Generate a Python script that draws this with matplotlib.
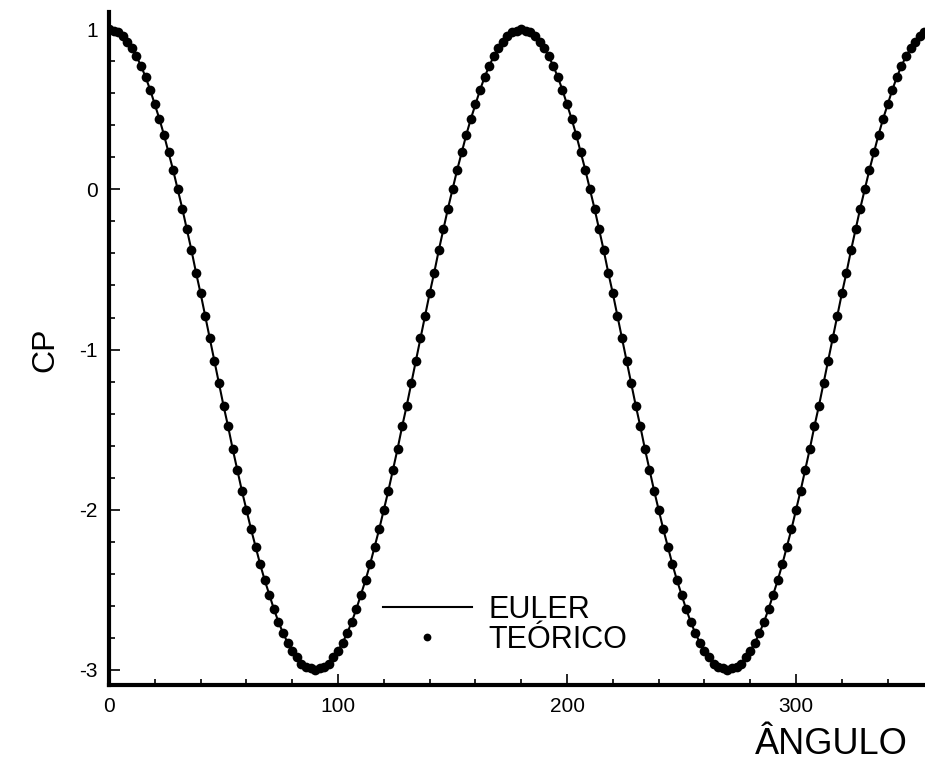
import matplotlib
matplotlib.use('Agg')
import matplotlib.pyplot as plt
from matplotlib.ticker import MultipleLocator

plt.rcParams['font.family'] = ['Liberation Sans', 'DejaVu Sans']
plt.rcParams['axes.unicode_minus'] = False

# angulo (graus) e Cp teorico
angulo = [
    0, 2, 4, 6, 8, 10, 12, 14, 16, 18, 20, 22, 24, 26, 28, 30, 32, 34, 36, 38,
    40, 42, 44, 46, 48, 50, 52, 54, 56, 58, 60, 62, 64, 66, 68, 70, 72, 74, 76, 78,
    80, 82, 84, 86, 88, 90, 92, 94, 96, 98, 100, 102, 104, 106, 108, 110, 112, 114, 116, 118,
    120, 122, 124, 126, 128, 130, 132, 134, 136, 138, 140, 142, 144, 146, 148, 150, 152, 154, 156, 158,
    160, 162, 164, 166, 168, 170, 172, 174, 176, 178, 180, 182, 184, 186, 188, 190, 192, 194, 196, 198,
    200, 202, 204, 206, 208, 210, 212, 214, 216, 218, 220, 222, 224, 226, 228, 230, 232, 234, 236, 238,
    240, 242, 244, 246, 248, 250, 252, 254, 256, 258, 260, 262, 264, 266, 268, 270, 272, 274, 276, 278,
    280, 282, 284, 286, 288, 290, 292, 294, 296, 298, 300, 302, 304, 306, 308, 310, 312, 314, 316, 318,
    320, 322, 324, 326, 328, 330, 332, 334, 336, 338, 340, 342, 344, 346, 348, 350, 352, 354, 356, 358,
    360,
]

cp = [
    1.00, 0.99, 0.98, 0.96, 0.92, 0.88, 0.83, 0.77, 0.70, 0.62, 0.53, 0.44, 0.34, 0.23, 0.12, 0.00,
    -0.12, -0.25, -0.38, -0.52, -0.65, -0.79, -0.93, -1.07, -1.21, -1.35, -1.48, -1.62, -1.75, -1.88,
    -2.00, -2.12, -2.23, -2.34, -2.44, -2.53, -2.62, -2.70, -2.77, -2.83, -2.88, -2.92, -2.96, -2.98,
    -2.99, -3.00,
    -2.99, -2.98, -2.96, -2.92, -2.88, -2.83, -2.77, -2.70, -2.62, -2.53, -2.44, -2.34, -2.23, -2.12,
    -2.00, -1.88, -1.75, -1.62, -1.48, -1.35, -1.21, -1.07, -0.93, -0.79, -0.65, -0.52, -0.38, -0.25,
    -0.12, 0.00, 0.12, 0.23, 0.34, 0.44, 0.53, 0.62, 0.70, 0.77, 0.83, 0.88, 0.92, 0.96, 0.98, 0.99,
    1.00,
    0.99, 0.98, 0.96, 0.92, 0.88, 0.83, 0.77, 0.70, 0.62, 0.53, 0.44, 0.34, 0.23, 0.12, 0.00,
    -0.12, -0.25, -0.38, -0.52, -0.65, -0.79, -0.93, -1.07, -1.21, -1.35, -1.48, -1.62, -1.75, -1.88,
    -2.00, -2.12, -2.23, -2.34, -2.44, -2.53, -2.62, -2.70, -2.77, -2.83, -2.88, -2.92, -2.96, -2.98,
    -2.99, -3.00,
    -2.99, -2.98, -2.96, -2.92, -2.88, -2.83, -2.77, -2.70, -2.62, -2.53, -2.44, -2.34, -2.23, -2.12,
    -2.00, -1.88, -1.75, -1.62, -1.48, -1.35, -1.21, -1.07, -0.93, -0.79, -0.65, -0.52, -0.38, -0.25,
    -0.12, 0.00, 0.12, 0.23, 0.34, 0.44, 0.53, 0.62, 0.70, 0.77, 0.83, 0.88, 0.92, 0.96, 0.98, 0.99,
    1.00,
]

fig = plt.figure(figsize=(9.25, 7.67), dpi=100)
ax = fig.add_axes([109/925, 82/767, 1 - 109/925, 673/767])

ax.plot(angulo, cp, color='black', lw=1.5, label='EULER', zorder=2)
ax.plot(angulo, cp, 'o', color='black', ms=7, mew=0, label='TEÓRICO', zorder=3)

ax.set_xlim(0, 356.3)
ax.set_ylim(-3.094, 1.107)

for s in ['top', 'right']:
    ax.spines[s].set_visible(False)
for s in ['left', 'bottom']:
    ax.spines[s].set_linewidth(3)

ax.xaxis.set_major_locator(MultipleLocator(100))
ax.xaxis.set_minor_locator(MultipleLocator(20))
ax.yaxis.set_major_locator(MultipleLocator(1))
ax.yaxis.set_minor_locator(MultipleLocator(0.2))
ax.tick_params(which='both', direction='in', width=1.2)
ax.tick_params(which='major', length=8, labelsize=15)
ax.tick_params(which='minor', length=4)
ax.tick_params(axis='x', pad=9)
ax.tick_params(axis='y', pad=8)

fig.text(45/925, 1 - 350/767, 'CP', rotation=90, fontsize=23, ha='center', va='center')
fig.text(831/925, 1 - 745/767, 'ÂNGULO', fontsize=26, ha='center', va='center')

ax.legend(loc='upper left', bbox_to_anchor=(383/925, 1 - 595/767), bbox_transform=fig.transFigure,
          frameon=False, fontsize=22, handlelength=2.9, handletextpad=0.55, labelspacing=0.0,
          borderpad=0, borderaxespad=0, markerscale=0.8)

fig.savefig('out.png', dpi=100)
